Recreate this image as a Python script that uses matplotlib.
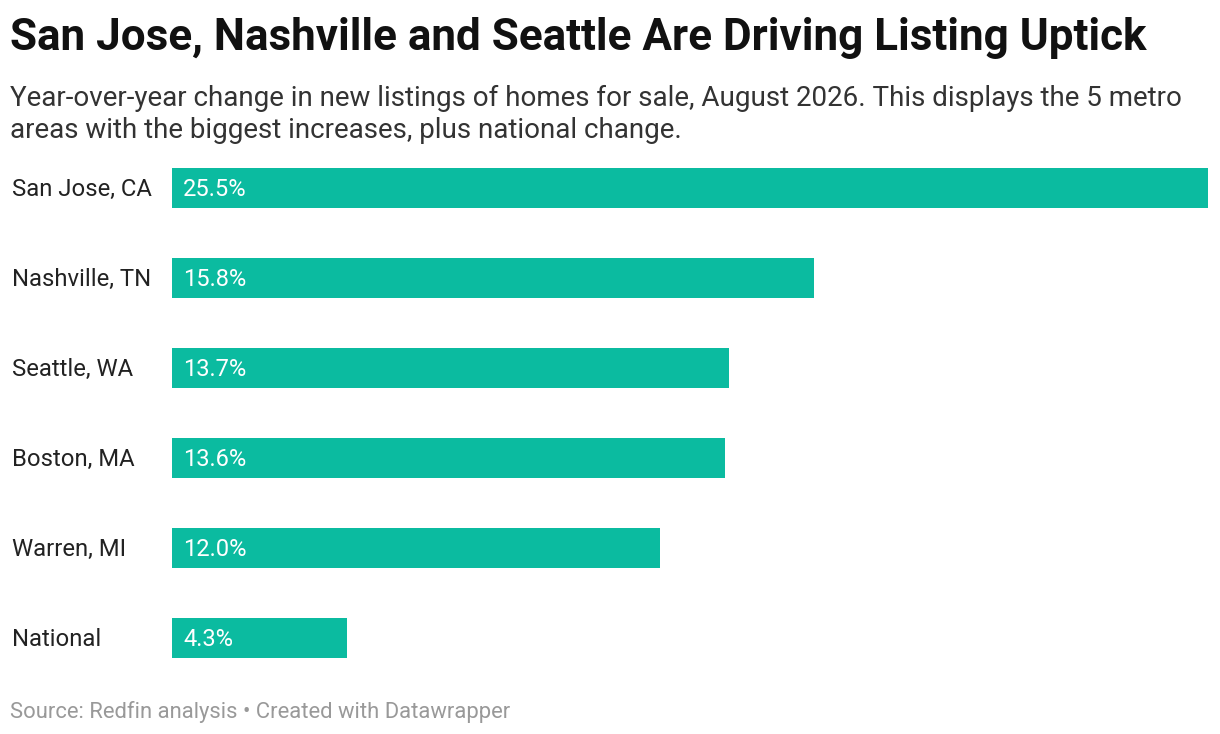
import matplotlib.pyplot as plt

plt.rcParams['font.family'] = ['Roboto', 'DejaVu Sans']

metros = ['San Jose, CA', 'Nashville, TN', 'Seattle, WA', 'Boston, MA', 'Warren, MI', 'National']
changes = [25.5, 15.8, 13.7, 13.6, 12.0, 4.3]

W, H = 1220, 734
fig = plt.figure(figsize=(W / 100, H / 100), dpi=100)

# axes: bars from x=172 to 1208 px, six 90px slots starting at y=143
ax = fig.add_axes([172 / W, 1 - 683 / H, (1208 - 172) / W, 540 / H])
ypos = list(range(len(metros)))
ax.barh(ypos, changes, height=40 / 90, color='#0bbba0')
ax.set_xlim(0, max(changes))
ax.set_ylim(len(metros) - 0.5, -0.5)
ax.axis('off')

for y, name, v in zip(ypos, metros, changes):
    ax.annotate(f'{v:.1f}%', (0, y), xytext=(11, -1), textcoords='offset pixels',
                color='white', va='center', ha='left', fontsize=17)
    fig.text(12 / W, 1 - (189 + 90 * y) / H, name, va='center', ha='left',
             fontsize=17.2, color='#222222')

fig.text(10 / W, 1 - 38 / H, 'San Jose, Nashville and Seattle Are Driving Listing Uptick',
         fontsize=31.7, fontweight='bold', va='center', ha='left', color='#111111')
fig.text(10 / W, 1 - 98 / H,
         'Year-over-year change in new listings of homes for sale, August 2026. This displays the 5 metro',
         fontsize=20, va='center', ha='left', color='#333333')
fig.text(10 / W, 1 - 131 / H, 'areas with the biggest increases, plus national change.',
         fontsize=20, va='center', ha='left', color='#333333')
fig.text(10 / W, 1 - 712 / H, 'Source: Redfin analysis • Created with Datawrapper',
         fontsize=15.8, va='center', ha='left', color='#999999')

fig.savefig('out.png', dpi=100)
